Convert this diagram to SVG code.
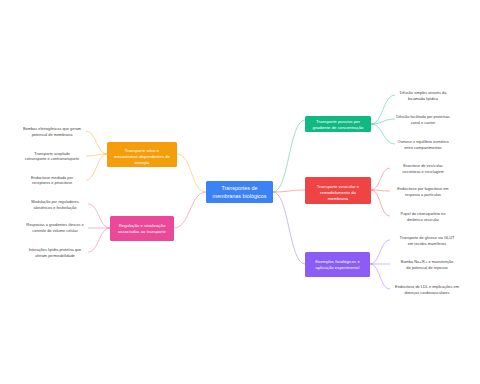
<svg xmlns="http://www.w3.org/2000/svg" width="480" height="384" viewBox="0 0 480 384">
<style>
.n{font-family:"Liberation Sans",Arial,sans-serif;fill:#fff;text-anchor:middle}
.nt{font-size:4.3px}
.ct{font-size:5.4px}
.l{font-family:"Liberation Sans",Arial,sans-serif;fill:#444;font-size:3.9px;text-anchor:middle}
.c{fill:none;stroke-width:0.7;stroke-opacity:0.6}
.g{stroke:#10b981}.r{stroke:#ef4444}.p{stroke:#8b5cf6}.o{stroke:#f59e0b}.k{stroke:#ec4899}
</style>
<rect width="480" height="384" fill="#fff"/>
<g id="connectors">
<path class="c g" d="M273,192 C289,192 289,120 305,120"/>
<path class="c r" d="M273,192 C289,192 289,190 305,190"/>
<path class="c p" d="M273,192 C289,192 289,264 305,264"/>
<path class="c o" d="M206,192 C191,192 192,154 177,154"/>
<path class="c k" d="M206,192 C190,192 190,228 174,228"/>
<path class="c g" d="M371,124 C383,124 383,95 395,95"/>
<path class="c g" d="M371,124 C383,124 383,119 395,119"/>
<path class="c g" d="M371,124 C383,124 383,144 395,144"/>
<path class="c r" d="M371,190 C381,190 380,168 390,168"/>
<path class="c r" d="M371,190 C381,190 380,191 390,191"/>
<path class="c r" d="M371,190 C381,190 380,216 390,216"/>
<path class="c p" d="M370,264 C380,264 380,240 390,240"/>
<path class="c p" d="M370,264 C380,264 380,264 390,264"/>
<path class="c p" d="M370,264 C380,264 380,289 390,289"/>
<path class="c o" d="M107,154 C97,154 96,131 86,131"/>
<path class="c o" d="M107,154 C97,154 96,156 86,156"/>
<path class="c o" d="M107,154 C97,154 96,180 86,180"/>
<path class="c k" d="M110,228 C99,228 99,204 88,204"/>
<path class="c k" d="M110,228 C99,228 99,228 88,228"/>
<path class="c k" d="M110,228 C99,228 99,252 88,252"/>
</g>
<g id="center">
<rect x="206" y="181" width="67" height="22" rx="1.5" fill="#3b82f6"/>
<text class="n ct" x="239.5" y="190">Transportes de</text>
<text class="n ct" x="239.5" y="197.5">membranas biológicos</text>
</g>
<g id="passivo">
<rect x="305" y="116" width="66" height="16" rx="1.5" fill="#10b981"/>
<text class="n nt" x="338" y="122.5">Transporte passivo por</text>
<text class="n nt" x="338" y="128.5">gradiente de concentração</text>
</g>
<g id="vesicular">
<rect x="305" y="177" width="66" height="27" rx="1.5" fill="#ef4444"/>
<text class="n nt" x="338" y="187.5">Transporte vesicular e</text>
<text class="n nt" x="338" y="193.5">remodelamento da</text>
<text class="n nt" x="338" y="199.5">membrana</text>
</g>
<g id="exemplos">
<rect x="305" y="252" width="65" height="25" rx="1.5" fill="#8b5cf6"/>
<text class="n nt" x="337.5" y="262.5">Exemplos fisiológicos e</text>
<text class="n nt" x="337.5" y="268.5">aplicação experimental</text>
</g>
<g id="ativo">
<rect x="107" y="142" width="70" height="25" rx="1.5" fill="#f59e0b"/>
<text class="n nt" x="142" y="151.5">Transporte ativo e</text>
<text class="n nt" x="142" y="157.5">mecanismos dependentes de</text>
<text class="n nt" x="142" y="163.5">energia</text>
</g>
<g id="regulacao">
<rect x="110" y="216" width="64" height="25" rx="1.5" fill="#ec4899"/>
<text class="n nt" x="142" y="226.5">Regulação e sinalização</text>
<text class="n nt" x="142" y="233">associadas ao transporte</text>
</g>
<g id="leaf-g1"><text class="l" x="423" y="93.5">Difusão simples através da</text><text class="l" x="423" y="99.5">bicamada lipídica</text></g>
<g id="leaf-g2"><text class="l" x="423" y="117.5">Difusão facilitada por proteínas</text><text class="l" x="423" y="123.5">canal e carrier</text></g>
<g id="leaf-g3"><text class="l" x="423" y="142.5">Osmose e equilíbrio osmótico</text><text class="l" x="423" y="148.5">entre compartimentos</text></g>
<g id="leaf-r1"><text class="l" x="423" y="166.5">Exocitose de vesículas</text><text class="l" x="423" y="172.5">secretoras e reciclagem</text></g>
<g id="leaf-r2"><text class="l" x="423" y="189.5">Endocitose por fagocitose em</text><text class="l" x="423" y="195.5">resposta a partículas</text></g>
<g id="leaf-r3"><text class="l" x="423" y="214.5">Papel do citoesqueleto na</text><text class="l" x="423" y="220.5">dinâmica vesicular</text></g>
<g id="leaf-p1"><text class="l" x="427" y="238.5">Transporte de glicose via GLUT</text><text class="l" x="427" y="244.5">em tecidos mamíferos</text></g>
<g id="leaf-p2"><text class="l" x="427" y="262.5">Bomba Na+/K+ e manutenção</text><text class="l" x="427" y="268.5">do potencial de repouso</text></g>
<g id="leaf-p3"><text class="l" x="427" y="287.5">Endocitose de LDL e implicações em</text><text class="l" x="427" y="293.5">doenças cardiovasculares</text></g>
<g id="leaf-o1"><text class="l" x="52" y="129.5">Bombas eletrogênicas que geram</text><text class="l" x="52" y="135.5">potencial de membrana</text></g>
<g id="leaf-o2"><text class="l" x="52" y="154.5">Transporte acoplado</text><text class="l" x="52" y="160">cotransporte e contratransporte</text></g>
<g id="leaf-o3"><text class="l" x="52" y="178.5">Endocitose mediada por</text><text class="l" x="52" y="184">receptores e pinocitose</text></g>
<g id="leaf-k1"><text class="l" x="55" y="202.5">Modulação por reguladores</text><text class="l" x="55" y="208.5">alostéricos e fosforilação</text></g>
<g id="leaf-k2"><text class="l" x="55" y="225.5">Respostas a gradientes iônicos e</text><text class="l" x="55" y="232">controle do volume celular</text></g>
<g id="leaf-k3"><text class="l" x="55" y="250.5">Interações lipídio-proteína que</text><text class="l" x="55" y="256.5">afetam permeabilidade</text></g>
</svg>
